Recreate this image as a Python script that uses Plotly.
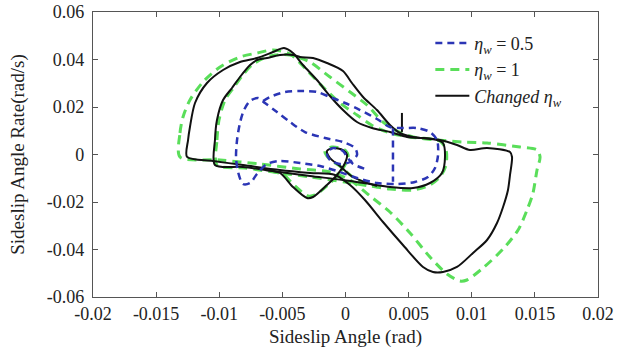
import plotly.graph_objects as go

# ---- data (sideslip angle [rad], sideslip angle rate [rad/s]) ----
# eta_w = 0.5 (blue dashed)
blue_x = [-0.00653, -0.00598, -0.00479, -0.00360, -0.00226, -0.00123, -0.00004, 0.00115, 0.00249, 0.00352,
          0.00455, 0.00566, 0.00669, 0.00725, 0.00733, 0.00709, 0.00653, 0.00550, 0.00408, 0.00249,
          0.00091, -0.00044, -0.00202, -0.00360, -0.00519, -0.00622, -0.00701, -0.00756, -0.00812, -0.00851,
          -0.00867, -0.00859, -0.00836, -0.00804, -0.00756, -0.00693, -0.00638, -0.00543, -0.00440, -0.00321,
          -0.00162, -0.00020, 0.00075, 0.00091, 0.00036, -0.00044, -0.00123, -0.00147, -0.00099, -0.00020,
          0.00012, 0.00060, 0.00180,
          None, 0.00376, 0.00376]
blue_y = [0.02252, 0.02421, 0.02631, 0.02673, 0.02631, 0.02421, 0.02168, 0.01873, 0.01495, 0.01158,
          0.01116, 0.01116, 0.00947, 0.00610, -0.00021, -0.00568, -0.00947, -0.01158, -0.01242, -0.01200,
          -0.00989, -0.00737, -0.00484, -0.00358, -0.00274, -0.00400, -0.00821, -0.01200, -0.01242, -0.00737,
          -0.00105, 0.00610, 0.01326, 0.01873, 0.02252, 0.02379, 0.02168, 0.01789, 0.01368, 0.00947,
          0.00695, 0.00526, 0.00274, -0.00021, -0.00316, -0.00400, -0.00232, 0.00063, 0.00274, 0.00147,
          -0.00105, -0.00400, -0.00650,
          None, 0.01100, -0.01150]

# eta_w = 1 (green dashed)
green_x = [-0.01311, -0.01311, -0.01287, -0.01232, -0.01129, -0.00994, -0.00836, -0.00701, -0.00574, -0.00440,
           -0.00337, -0.00202, -0.00044, 0.00091, 0.00218, 0.00352, 0.00511, 0.00725, 0.00931, 0.01121,
           0.01382, 0.01517, 0.01541, 0.01517, 0.01485, 0.01438, 0.01367, 0.01248, 0.01089, 0.00962,
           0.00907, 0.00804, 0.00669, 0.00511, 0.00352, 0.00194, 0.00036, -0.00123, -0.00360, -0.00677,
           -0.00994, -0.01311,
           None,
           -0.01018, -0.01018, -0.01002, -0.00954, -0.00883, -0.00820, -0.00741, -0.00661, -0.00558, -0.00440,
           -0.00360, -0.00281, -0.00123, 0.00036, 0.00170, 0.00297, 0.00408, 0.00535, 0.00748, 0.00796,
           0.00796, 0.00748, 0.00669, 0.00535, 0.00352, 0.00194, -0.00004, -0.00281, -0.00519, -0.00796,
           -0.01018,
           None,
           -0.00598, -0.00495, -0.00400, -0.00297, -0.00241, -0.00131, -0.00051, 0.00004, 0.00020, -0.00012,
           -0.00107, -0.00163, -0.00131, -0.00036, 0.00075, 0.00257]
green_y = [-0.00105, 0.00905, 0.01579, 0.02294, 0.03052, 0.03684, 0.04105, 0.04273, 0.04399, 0.04231,
           0.03726, 0.02968, 0.02168, 0.01663, 0.01200, 0.00905, 0.00737, 0.00610, 0.00526, 0.00484,
           0.00316, 0.00189, -0.00105, -0.00653, -0.01621, -0.02337, -0.03179, -0.03979, -0.04778, -0.05284,
           -0.05326, -0.05031, -0.04315, -0.03305, -0.02421, -0.01747, -0.01074, -0.00737, -0.00611, -0.00400,
           -0.00232, -0.00105,
           None,
           -0.00442, 0.00610, 0.01452, 0.02294, 0.02842, 0.03305, 0.03768, 0.04021, 0.04189, 0.04189,
           0.04063, 0.03894, 0.03263, 0.02631, 0.02084, 0.01368, 0.00989, 0.00737, 0.00568, 0.00189,
           -0.00442, -0.00947, -0.01284, -0.01495, -0.01452, -0.01326, -0.01158, -0.00947, -0.00779, -0.00568,
           -0.00442,
           None,
           -0.00695, -0.00842, -0.01326, -0.01747, -0.01705, -0.01242, -0.00821, -0.00358, -0.00021, 0.00210,
           0.00316, 0.00147, -0.00168, -0.00526, -0.01011, -0.01368]

# changed eta_w (black solid)
black_x = [-0.01255, -0.01247, -0.01232, -0.01192, -0.01097, -0.00970, -0.00836, -0.00701, -0.00574, -0.00487,
           -0.00416, -0.00337, -0.00226, -0.00123, -0.00020, 0.00091, 0.00210, 0.00352, 0.00487, 0.00614,
           0.00748, 0.00883, 0.00986, 0.01121, 0.01303, 0.01319, 0.01303, 0.01287, 0.01248, 0.01200,
           0.01121, 0.01010, 0.00883, 0.00772, 0.00693, 0.00614, 0.00455, 0.00297, 0.00154, 0.00036,
           -0.00083, -0.00281, -0.00519, -0.00812, -0.01050, -0.01255,
           None,
           -0.01034, -0.01034, -0.01018, -0.00970, -0.00899, -0.00836, -0.00756, -0.00701, -0.00622, -0.00519,
           -0.00416, -0.00360, -0.00257, -0.00147, -0.00020, 0.00051, 0.00139, 0.00249, 0.00352, 0.00432,
           0.00535, 0.00725, 0.00772, 0.00788, 0.00764, 0.00669, 0.00535, 0.00352, 0.00194, -0.00020,
           -0.00281, -0.00519, -0.00812, -0.01034,
           None,
           -0.00638, -0.00519, -0.00416, -0.00305, -0.00257, -0.00147, -0.00067, -0.00004, 0.00012, -0.00020,
           -0.00099, -0.00147, -0.00123, -0.00044, 0.00059, 0.00249,
           None,
           0.00447, 0.00447]
black_y = [-0.00105, 0.00610, 0.01158, 0.02168, 0.03010, 0.03557, 0.03894, 0.04063, 0.04315, 0.04484,
           0.04273, 0.03768, 0.03136, 0.02463, 0.01873, 0.01368, 0.01116, 0.00947, 0.00737, 0.00695,
           0.00610, 0.00400, 0.00189, 0.00274, 0.00105, -0.00105, -0.00863, -0.01495, -0.02210, -0.02884,
           -0.03600, -0.04147, -0.04736, -0.04947, -0.04947, -0.04736, -0.03810, -0.02842, -0.01916, -0.01284,
           -0.00863, -0.00779, -0.00653, -0.00442, -0.00274, -0.00105,
           None,
           -0.00442, 0.00610, 0.01452, 0.02294, 0.02800, 0.03263, 0.03768, 0.03978, 0.04063, 0.04189,
           0.04189, 0.04105, 0.04063, 0.03852, 0.03515, 0.03010, 0.02421, 0.01873, 0.01242, 0.00905,
           0.00737, 0.00610, 0.00484, -0.00105, -0.00779, -0.01200, -0.01410, -0.01368, -0.01242, -0.01074,
           -0.00905, -0.00737, -0.00526, -0.00442,
           None,
           -0.00653, -0.00779, -0.01368, -0.01831, -0.01789, -0.01284, -0.00863, -0.00358, -0.00021, 0.00189,
           0.00274, 0.00147, -0.00147, -0.00484, -0.00947, -0.01326,
           None,
           0.01750, 0.00950]

x_ticks = [-0.02, -0.015, -0.01, -0.005, 0, 0.005, 0.01, 0.015, 0.02]
x_tick_text = ["-0.02", "-0.015", "-0.01", "-0.005", "0", "0.005", "0.01", "0.015", "0.02"]
y_ticks = [-0.06, -0.04, -0.02, 0, 0.02, 0.04, 0.06]
y_tick_text = ["-0.06", "-0.04", "-0.02", "0", "0.02", "0.04", "0.06"]

fig = go.Figure()
fig.add_trace(go.Scatter(
    x=green_x, y=green_y, mode="lines", name="<i>η<sub>w</sub></i> = 1",
    line=dict(color="#5ade5a", width=3, dash="9px,6px", shape="spline", smoothing=0.8),
    legendrank=2))
fig.add_trace(go.Scatter(
    x=black_x, y=black_y, mode="lines", name="<i>Changed η<sub>w</sub></i>",
    line=dict(color="#111111", width=2, shape="spline", smoothing=0.8),
    legendrank=3))
fig.add_trace(go.Scatter(
    x=blue_x, y=blue_y, mode="lines", name="<i>η<sub>w</sub></i> = 0.5",
    line=dict(color="#2b35b5", width=2.5, dash="7px,5px", shape="spline", smoothing=0.8),
    legendrank=1))

axis_common = dict(
    showgrid=False, zeroline=False, showline=True, linecolor="#555555", linewidth=1.3,
    mirror="ticks", ticks="inside", ticklen=5, tickcolor="#555555", tickwidth=1.2,
    tickfont=dict(family="Liberation Serif", size=18, color="#222222"),
)
fig.update_xaxes(range=[-0.02, 0.02], tickvals=x_ticks, ticktext=x_tick_text,
                 title=dict(text="Sideslip Angle (rad)", standoff=6,
                            font=dict(family="Liberation Serif", size=19, color="#222222")),
                 **axis_common)
fig.update_yaxes(range=[-0.06, 0.06], tickvals=y_ticks, ticktext=y_tick_text,
                 ticklabelstandoff=4,
                 title=dict(text="Sideslip Angle Rate(rad/s)", standoff=17,
                            font=dict(family="Liberation Serif", size=19, color="#222222")),
                 **axis_common)

fig.update_layout(
    width=630, height=356,
    margin=dict(l=93, r=32, t=12, b=59, autoexpand=False),
    paper_bgcolor="white", plot_bgcolor="white",
    legend=dict(x=0.668, y=0.955, xanchor="left", yanchor="top",
                bgcolor="rgba(255,255,255,0)", borderwidth=0,
                font=dict(family="Liberation Serif", size=18, color="#222222"),
                itemwidth=34, tracegroupgap=0),
    showlegend=True,
)

fig.write_html("out.html")
